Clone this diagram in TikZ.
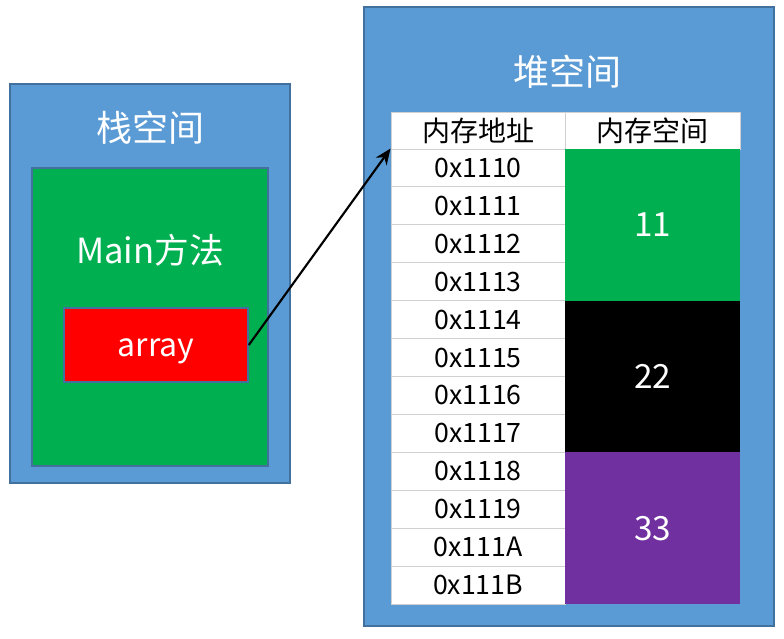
\documentclass[tikz,border=0pt]{standalone}
\usepackage{fontspec}
\setmainfont{Noto Sans CJK SC}
\usetikzlibrary{positioning,arrows.meta}
\definecolor{spaceblue}{RGB}{91,155,213}
\definecolor{edgeblue}{RGB}{65,113,156}
\definecolor{methgreen}{RGB}{0,176,80}
\definecolor{valpurple}{RGB}{112,48,160}
\definecolor{gridgray}{RGB}{208,208,208}

\begin{document}
\begin{tikzpicture}[x=0.75pt, y=-0.75pt,
  area/.style={rectangle, draw=edgeblue, fill=#1, line width=1.2pt, inner sep=0pt},
  title/.style={text=white, font=\fontsize{27}{32}\selectfont},
  caption/.style={text=white, font=\fontsize{25.5}{30}\selectfont},
  addrcell/.style={rectangle, draw=gridgray, fill=white, line width=0.7pt,
                   minimum width=130.5pt, minimum height=28.44pt, inner sep=0pt,
                   font=\fontsize{20}{24}\selectfont},
  headcell/.style={addrcell, minimum height=27.75pt, font=\fontsize{21}{24}\selectfont},
  valcell/.style={rectangle, fill=#1, minimum width=131.25pt, minimum height=113.75pt,
                  inner sep=0pt, text=white, font=\fontsize{25}{30}\selectfont},
  ptr/.style={-{Stealth[length=12pt, width=10pt]}, line width=1.6pt, black},
]
\useasboundingbox (0,0) rectangle (784,638);

% stack side
\node[area=spaceblue, minimum width=210pt, minimum height=299.25pt] (stack) at (150,283.5) {};
\node[title] (stackt) at (150,128) {栈空间};
\node[area=methgreen, minimum width=177pt, minimum height=223.5pt] (main) at (150,317) {};
\node[caption, font=\fontsize{26}{30}\selectfont] (maint) at (150,250) {Main方法};
\node[area=red, minimum width=138pt, minimum height=55.5pt] (arr) at (156,345) {};
\node[caption, font=\fontsize{24}{28}\selectfont] (arrt) at (156,351) {array};

% heap side
\node[area=spaceblue, minimum width=307.5pt, minimum height=464.25pt] (heap) at (569,316.5) {};
\node[title] (heapt) at (567,72) {堆空间};

\node[headcell] (h1) at (478,130.5) {内存地址};
\node[headcell, minimum width=131.25pt] (h2) at (652.5,130.5) {内存空间};

\foreach \addr [count=\i] in {0x1110,0x1111,0x1112,0x1113,0x1114,0x1115,
                              0x1116,0x1117,0x1118,0x1119,0x111A,0x111B}
  \node[addrcell] (a\i) at (478,{149+(\i-0.5)*37.92}) {\addr};

\node[valcell=methgreen] (v1) at (652.5,224.8) {11};
\node[valcell=black]     (v2) at (652.5,376.5) {22};
\node[valcell=valpurple] (v3) at (652.5,528.2) {33};

\draw[ptr] (arr.east) -- (a1.north west);
\end{tikzpicture}
\end{document}
